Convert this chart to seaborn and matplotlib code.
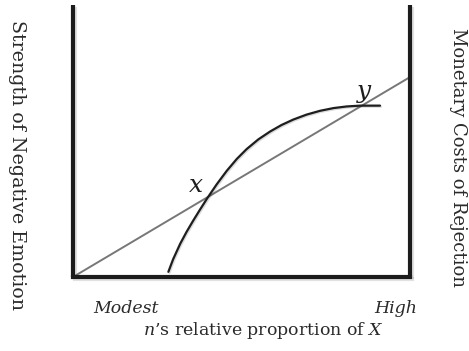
import matplotlib
matplotlib.use("Agg")
import matplotlib.pyplot as plt
import matplotlib.patheffects as pe
import pandas as pd
import seaborn as sns

# Emotion curve: strength of negative emotion vs. n's relative proportion of X
curve_x = [0.283, 0.297, 0.318, 0.337, 0.357, 0.377, 0.397, 0.426, 0.456, 0.486,
           0.515, 0.550, 0.585, 0.619, 0.654, 0.693, 0.733, 0.773, 0.812, 0.852, 0.911]
curve_y = [0.019, 0.065, 0.122, 0.166, 0.208, 0.248, 0.287, 0.340, 0.390, 0.434,
           0.470, 0.506, 0.535, 0.559, 0.579, 0.597, 0.611, 0.621, 0.627, 0.630, 0.630]

# Monetary cost of rejection: straight line
cost_x = [0.0, 1.0]
cost_y = [0.0, 0.735]

# Crossing points
point_labels = ["$x$", "$y$"]
point_x = [0.365, 0.864]
point_y = [0.335, 0.676]

sns.set_theme(style="white")
plt.rcParams["font.family"] = ["DejaVu Serif"]
plt.rcParams["mathtext.fontset"] = "dejavuserif"

W, H = 469, 351
fig = plt.figure(figsize=(W / 100, H / 100), dpi=100)
ax = fig.add_axes([73 / W, (H - 277) / H, 337 / W, 272 / H])

curve_df = pd.DataFrame({"x": curve_x, "y": curve_y})
cost_df = pd.DataFrame({"x": cost_x, "y": cost_y})

sns.lineplot(data=cost_df, x="x", y="y", ax=ax, color="#777777", lw=1.4,
             sort=False, estimator=None)
sns.lineplot(data=curve_df, x="x", y="y", ax=ax, color="#1e1e1e", lw=1.6,
             sort=False, estimator=None,
             path_effects=[pe.SimpleLineShadow(offset=(0.8, -0.8), alpha=0.15),
                           pe.Normal()])

ax.set_xlim(0, 1)
ax.set_ylim(0, 1)
ax.set_xticks([])
ax.set_yticks([])
ax.set_xlabel("")
ax.set_ylabel("")

ax.spines["top"].set_visible(False)
for side in ["left", "right", "bottom"]:
    sp = ax.spines[side]
    sp.set_visible(True)
    sp.set_linewidth(3.0)
    sp.set_color("#1c1c1c")
    sp.set_capstyle("projecting" if side == "bottom" else "butt")
    sp.set_path_effects([pe.SimpleLineShadow(offset=(1.6, -1.6), alpha=0.22,
                                             shadow_color="#777777"),
                         pe.Normal()])

for lab, px, py in zip(point_labels, point_x, point_y):
    ax.text(px, py, lab, fontsize=18, ha="center", va="center", color="#1e1e1e")

txt = "#2a2a2a"


def fx(x):
    return x / W


def fy(y):
    return 1 - y / H


fig.text(fx(93), fy(313), "Modest", fontsize=12.5, style="italic",
         ha="left", va="baseline", color=txt)
fig.text(fx(417), fy(313), "High", fontsize=12.5, style="italic",
         ha="right", va="baseline", color=txt)
fig.text(fx(263.5), fy(335), "$n$\u2019s relative proportion of $X$", fontsize=12.5,
         ha="center", va="baseline", color=txt)
fig.text(fx(17), fy(165), "Strength of Negative Emotion", fontsize=13.7,
         rotation=-90, ha="center", va="center", color=txt)
fig.text(fx(458), fy(157), "Monetary Costs of Rejection", fontsize=13,
         rotation=-90, ha="center", va="center", color=txt)

fig.savefig("out.png", dpi=100, facecolor="white")
